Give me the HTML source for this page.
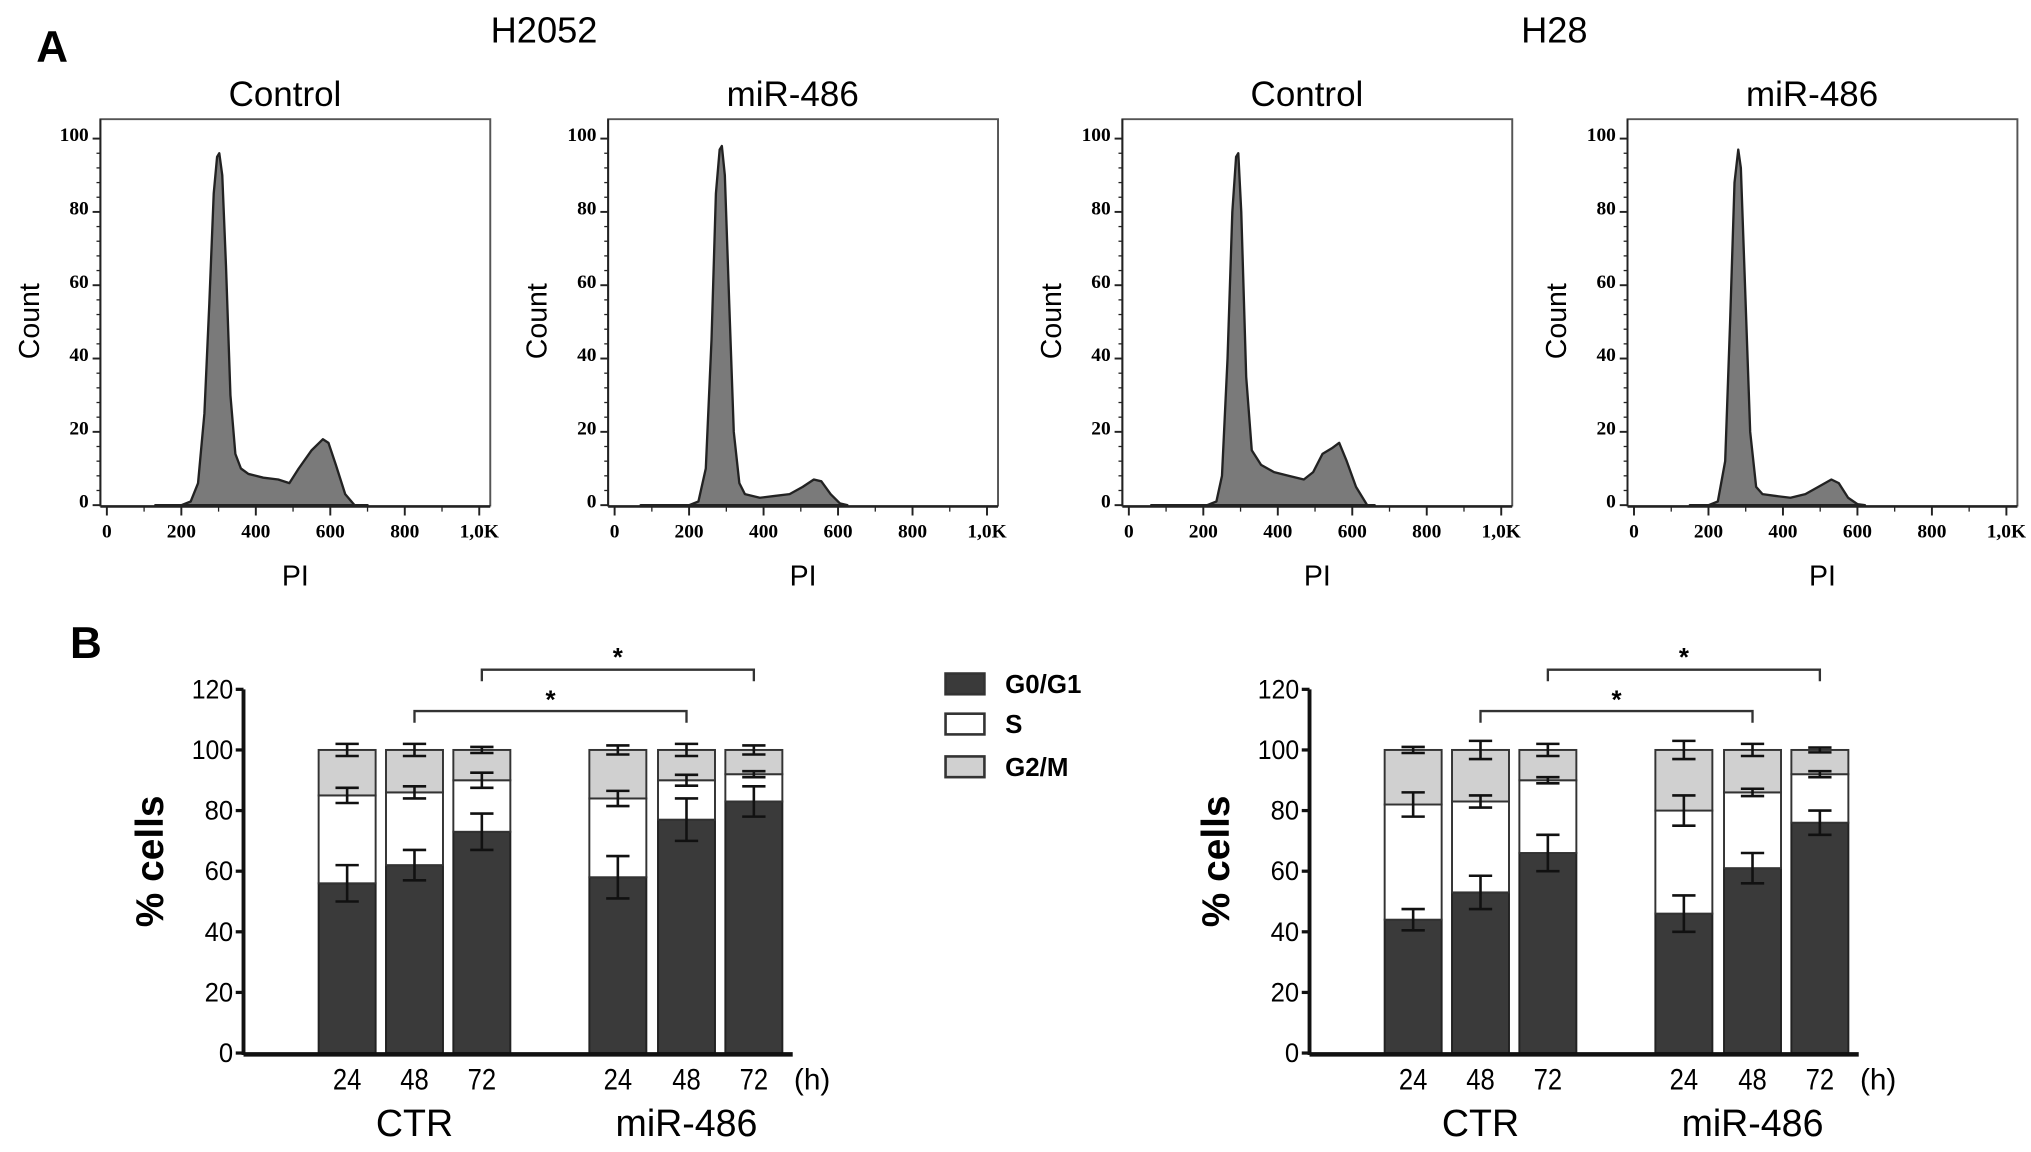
<!DOCTYPE html>
<html><head><meta charset="utf-8"><style>
html,body{margin:0;padding:0;background:#fff}
svg{display:block}
.ar{font-family:"Liberation Sans",sans-serif}
.sf{font-family:"Liberation Serif",serif;font-weight:bold}
</style></head><body>
<svg id="fig" width="2031" height="1152" viewBox="0 0 1568 889.4" preserveAspectRatio="none" xmlns="http://www.w3.org/2000/svg">
<rect width="1568" height="890" fill="#fff"/>
<text class="ar" x="28" y="48" font-size="34" font-weight="bold">A</text>
<text class="ar" x="420" y="33" font-size="28" text-anchor="middle">H2052</text>
<text class="ar" x="1200" y="33" font-size="28" text-anchor="middle">H28</text>
<text class="ar" x="54" y="508" font-size="34" font-weight="bold">B</text>
<g id="hists"></g>
<g id="bars"></g>
<g>
<rect x="730" y="520" width="30" height="16" fill="#3a3a3a" stroke="#333" stroke-width="2"/>
<text class="ar" x="776" y="535" font-size="20" font-weight="bold">G0/G1</text>
<rect x="730" y="551" width="30" height="16" fill="#fff" stroke="#333" stroke-width="2"/>
<text class="ar" x="776" y="566" font-size="20" font-weight="bold">S</text>
<rect x="730" y="584" width="30" height="16" fill="#d0d0d0" stroke="#333" stroke-width="2"/>
<text class="ar" x="776" y="599" font-size="20" font-weight="bold">G2/M</text>
</g>
</svg>
<script>
const NS="http://www.w3.org/2000/svg";
// Histogram data: [PI, count]
const histH2052Ctrl=[[130,0],[200,0],[225,1],[245,6],[262,25],[275,55],[287,85],[296,95],[302,96],[310,90],[320,65],[332,30],[345,14],[360,10],[380,8.5],[420,7.5],[460,7],[490,6],[515,10],[550,15],[580,18],[595,17],[615,11],[640,3],[665,0],[700,0]];
const histH2052Mir=[[70,0],[200,0],[225,1],[245,10],[260,45],[272,85],[282,97],[288,98],[296,90],[308,55],[320,20],[335,6],[350,3],[390,2],[430,2.5],[470,3],[505,5],[535,7],[555,6.5],[580,3],[605,0.5],[625,0]];
const histH28Ctrl=[[60,0],[210,0],[235,1],[250,8],[265,40],[278,80],[288,95],[294,96],[302,80],[315,35],[330,15],[355,11],[390,9],[430,8],[470,7],[495,9],[520,14],[545,15.5],[565,17],[585,12],[610,5],[640,0],[660,0]];
const histH28Mir=[[150,0],[200,0],[225,1],[245,12],[258,50],[270,88],[280,97],[287,92],[298,60],[312,20],[328,5],[345,3],[380,2.5],[420,2],[460,3],[495,5],[530,7],[550,6],[575,2],[600,0.3],[620,0]];
const histSets=[histH2052Ctrl,histH2052Mir,histH28Ctrl,histH28Mir];
const histTitles=["Control","miR-486","Control","miR-486"];
const histXTicks=[0,200,400,600,800,1000];
const histXTickLabels=["0","200","400","600","800","1,0K"];
const histYTicks=[0,20,40,60,80,100];
const histOffsets=[0,392,789,1179];

// Bar chart data
const barCats=["24","48","72","24","48","72"];
const leftG1=[56,62,73,58,77,83];
const leftSTop=[85,86,90,84,90,92];
const leftG1Err=[6,5,6,7,7,5];
const leftSErr=[2.5,2,2.5,2.5,1.8,1];
const leftTopErr=[2,2,1,1.5,2,1.5];
const rightG1=[44,53,66,46,61,76];
const rightSTop=[82,83,90,80,86,92];
const rightG1Err=[3.5,5.5,6,6,5,4];
const rightSErr=[4,2,1,5,1.2,1];
const rightTopErr=[1,3,2,3,2,0.8];
const barYTicks=[0,20,40,60,80,100,120];

function el(tag,attrs,parent,txt){const e=document.createElementNS(NS,tag);for(const k in attrs)e.setAttribute(k,attrs[k]);if(txt!==undefined)e.textContent=txt;parent.appendChild(e);return e;}

const hg=document.getElementById('hists');
histSets.forEach((pts,i)=>{
  const o=histOffsets[i];
  const g=el('g',{},hg);
  
  
  const x=v=>82.5+o+v*0.2875, y=v=>390-v*2.83;
  const L=77.5+o,R=378.5+o,T=92,B=391;
  const t=el('text',{class:'ar',x:o+220,y:82,'font-size':27,'text-anchor':'middle'},g,histTitles[i]);
  
  
  const fr=el('path',{d:`M${L} ${B}V${T}H${R}V${B}`,fill:'none',stroke:'#555','stroke-width':1.5},g);
  
  
  let d=`M${x(pts[0][0])} ${y(0)}`;pts.forEach(p=>d+=`L${x(p[0]).toFixed(1)} ${y(p[1]).toFixed(1)}`);d+=`L${x(pts[pts.length-1][0])} ${y(0)}Z`;
  const a=el('path',{d:d,fill:'#7a7a7a',stroke:'#222','stroke-width':1.8,'stroke-linejoin':'round'},g);
  
  
  el('line',{x1:L,y1:B,x2:R,y2:B,stroke:'#222','stroke-width':2},g);
  el('line',{x1:L,y1:T,x2:L,y2:B,stroke:'#222','stroke-width':1.5},g);
  histXTicks.forEach((v,k)=>{
    el('line',{x1:x(v),y1:B,x2:x(v),y2:B+7,stroke:'#222','stroke-width':1.5},g);
    if(k<5)el('line',{x1:x(v+100),y1:B,x2:x(v+100),y2:B+4,stroke:'#222','stroke-width':1},g);
    const tl=el('text',{class:'sf',x:x(v),y:B+24,'font-size':15,'text-anchor':'middle'},g,histXTickLabels[k]);
    
    
  });
  histYTicks.forEach(v=>{
    el('line',{x1:L-6,y1:y(v),x2:L,y2:y(v),stroke:'#222','stroke-width':1.5},g);
    if(v<100)for(let m=4;m<20;m+=4)el('line',{x1:L-3,y1:y(v+m),x2:L,y2:y(v+m),stroke:'#222','stroke-width':1},g);
    const tl=el('text',{class:'sf',x:L-9,y:y(v)+2,'font-size':15,'text-anchor':'end'},g,String(v));
    
    
  });
  const yl=el('text',{class:'ar',x:0,y:0,'font-size':22,'text-anchor':'middle',transform:`translate(${o+30},248) rotate(-90)`},g,'Count');
  
  
  const xl=el('text',{class:'ar',x:o+228,y:452,'font-size':22,'text-anchor':'middle'},g,'PI');
  
  
});

const bg=document.getElementById('bars');
const charts=[{o:0,g1:leftG1,s:leftSTop,e1:leftG1Err,e2:leftSErr,e3:leftTopErr},{o:823,g1:rightG1,s:rightSTop,e1:rightG1Err,e2:rightSErr,e3:rightTopErr}];
const barX=[246,298,350,455,508,560];
charts.forEach((c,ci)=>{
  const o=c.o;
  const g=el('g',{},bg);
  
  
  const y=v=>813-v*2.34;
  const AX=188+o;
  el('line',{x1:AX,y1:y(120),x2:AX,y2:y(0)+1.5,stroke:'#111','stroke-width':3},g);
  barYTicks.forEach(v=>{
    el('line',{x1:AX-6,y1:y(v),x2:AX,y2:y(v),stroke:'#111','stroke-width':2.5},g);
    const tl=el('text',{class:'ar',x:AX-8,y:y(v)+7,'font-size':21,'text-anchor':'end',textLength:v>=100?32:(v?22:11),lengthAdjust:'spacingAndGlyphs'},g,String(v));
    
    
  });
  const W=44;
  barCats.forEach((cat,i)=>{
    const bx=barX[i]+o, cx=bx+W/2;
    const r1=el('rect',{x:bx,y:y(c.g1[i]),width:W,height:y(0)-y(c.g1[i]),fill:'#3a3a3a',stroke:'#222','stroke-width':1.5},g);
    
    
    const r2=el('rect',{x:bx,y:y(c.s[i]),width:W,height:y(c.g1[i])-y(c.s[i]),fill:'#fff',stroke:'#333','stroke-width':1.5},g);
    
    
    const r3=el('rect',{x:bx,y:y(100),width:W,height:y(c.s[i])-y(100),fill:'#d0d0d0',stroke:'#333','stroke-width':1.5},g);
    
    
    [[c.g1[i],c.e1[i]],[c.s[i],c.e2[i]],[100,c.e3[i]]].forEach(([v,e])=>{
      const eb=el('path',{d:`M${cx} ${y(v+e)}V${y(v-e)}M${cx-9} ${y(v+e)}H${cx+9}M${cx-9} ${y(v-e)}H${cx+9}`,stroke:'#111','stroke-width':2,fill:'none'},g);
      
      
    });
    const tl=el('text',{class:'ar',x:cx,y:841,'font-size':23,'text-anchor':'middle',textLength:22,lengthAdjust:'spacingAndGlyphs'},g,cat);
    
    
  });
  el('line',{x1:AX,y1:y(0)+1,x2:612+o,y2:y(0)+1,stroke:'#111','stroke-width':3.5},g);
  const h=el('text',{class:'ar',x:627+o,y:841,'font-size':23,'text-anchor':'middle'},g,'(h)');
  
  
  const g1=el('text',{class:'ar',x:(barX[1]+22)+o,y:877,'font-size':29,'text-anchor':'middle'},g,'CTR');
  
  
  const g2=el('text',{class:'ar',x:(barX[4]+22)+o,y:877,'font-size':29,'text-anchor':'middle'},g,'miR-486');
  
  
  const yl=el('text',{class:'ar',x:0,y:0,'font-size':30,'font-weight':'bold','text-anchor':'middle',transform:`translate(${126+o},665) rotate(-90)`},g,'% cells');
  
  
  [[barX[2],barX[5],517,504],[barX[1],barX[4],549,537]].forEach(([a,b,yy,sy])=>{
    const x1=a+22+o,x2=b+22+o;
    const br=el('path',{d:`M${x1} ${yy+9}V${yy}H${x2}V${yy+9}`,stroke:'#333','stroke-width':1.8,fill:'none'},g);
    
    
    const st=el('text',{class:'ar',x:(x1+x2)/2,y:sy+10,'font-size':20,'font-weight':'bold','text-anchor':'middle'},g,'*');
    
    
  });
});
</script>
</body></html>
